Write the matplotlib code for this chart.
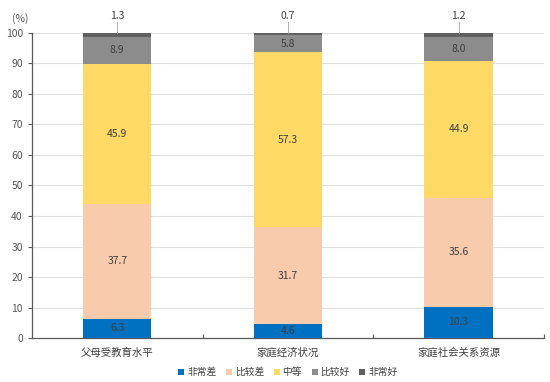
import numpy as np
import matplotlib
matplotlib.use('Agg')
import matplotlib.pyplot as plt

plt.rcParams['font.family'] = ['Noto Sans CJK SC', 'DejaVu Sans']

categories = ['父母受教育水平', '家庭经济状况', '家庭社会关系资源']
levels = ['非常差', '比较差', '中等', '比较好', '非常好']
very_bad = [6.3, 4.6, 10.3]
bad = [37.7, 31.7, 35.6]
medium = [45.9, 57.3, 44.9]
good = [8.9, 5.8, 8.0]
very_good = [1.3, 0.7, 1.2]

series = [very_bad, bad, medium, good, very_good]
colors = ['#0070C0', '#F8CBAD', '#FFD966', '#8C8C8C', '#606060']

fig = plt.figure(figsize=(5.5, 3.82), dpi=100)
ax = fig.add_axes([0.058, 0.115, 0.931, 0.799])

x = np.arange(len(categories))
bottom = np.zeros(len(categories))
for i, vals in enumerate(series):
    vals = np.array(vals)
    ax.bar(x, vals, 0.4, bottom=bottom, color=colors[i], label=levels[i], zorder=3)
    for xi, b, v in zip(x, bottom, vals):
        if i < 4:
            ax.text(xi, b + v / 2, '%.1f' % v, ha='center', va='center',
                    fontsize=7.5, color='#404040', zorder=4)
        else:
            ax.plot([xi, xi], [b + v, 103.5], color='#A6A6A6', lw=0.6, zorder=4,
                    clip_on=False)
            ax.text(xi, 104, '%.1f' % v, ha='center', va='bottom',
                    fontsize=7.5, color='#404040', clip_on=False)
    bottom += vals

ax.set_xlim(-0.5, 2.5)
ax.set_ylim(0, 100)
ax.set_yticks(np.arange(0, 101, 10))
ax.tick_params(axis='y', labelsize=7.5, colors='#595959', length=3, width=0.8)
ax.set_xticks(x)
ax.set_xticklabels(categories, fontsize=7.5, color='#404040')
ax.tick_params(axis='x', length=0, pad=7)
ax.set_xticks([0.5, 1.5, 2.5], minor=True)
ax.tick_params(axis='x', which='minor', direction='in', length=3, width=0.8, color='#595959')
ax.grid(axis='y', color='#E0E0E0', lw=0.8, zorder=0)
for s in ['top', 'right']:
    ax.spines[s].set_visible(False)
for s in ['left', 'bottom']:
    ax.spines[s].set_color('#595959')
    ax.spines[s].set_linewidth(0.9)

ax.text(-0.023, 1.046, '(%)', transform=ax.transAxes, ha='center', va='center',
        fontsize=7.5, color='#595959')

ax.legend(loc='center', bbox_to_anchor=(0.5, -0.112), ncol=5, frameon=False,
          fontsize=7, handlelength=0.6, handleheight=0.6, handletextpad=0.3,
          columnspacing=1.0, labelcolor='#404040')

fig.savefig('out.png', dpi=100)
